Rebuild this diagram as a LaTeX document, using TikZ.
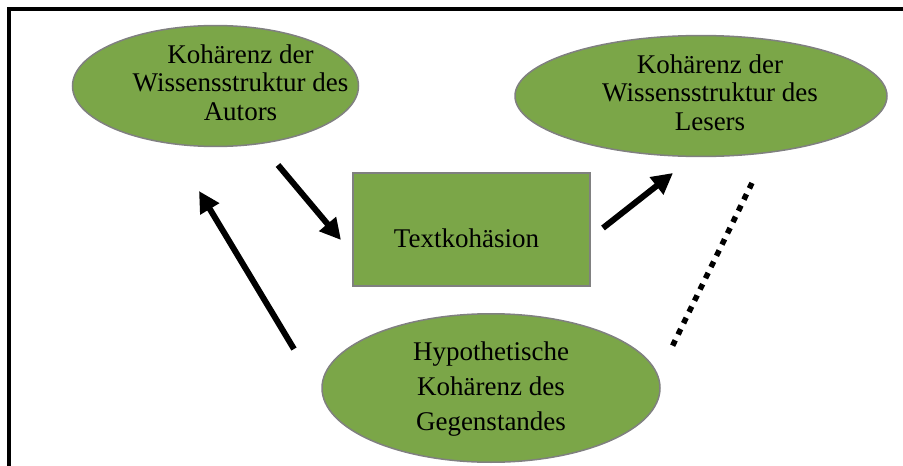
\documentclass[tikz,border=0pt]{standalone}
\usepackage{fontspec}
\setmainfont{Liberation Serif}
\usetikzlibrary{shapes.geometric, arrows.meta, positioning}
\definecolor{blattgruen}{RGB}{123,166,72}
\definecolor{randgrau}{RGB}{128,128,128}
% text inside a shape, moved by (#1/2, #2)
\newcommand{\feldtext}[3]{\makebox[0pt]{\hspace*{#1}\raisebox{#2}{\begin{tabular}{@{}c@{}}#3\end{tabular}}}}

\begin{document}
\begin{tikzpicture}[x=1pt, y=-1pt, >={Triangle[length=21pt, width=21pt]},
  koh/.style={ellipse, draw=randgrau, line width=1.5pt, fill=blattgruen,
    inner sep=0pt, font=\fontsize{27}{28.5}\selectfont},
  kasten/.style={rectangle, draw=randgrau, line width=1.5pt, fill=blattgruen,
    font=\fontsize{27}{28.5}\selectfont},
  pfeil/.style={->, line width=6pt},
  punktiert/.style={line width=5.5pt, dash pattern=on 6pt off 6.5pt}]
\useasboundingbox (0,0) rectangle (903,466);
\draw[line width=4pt] (9.3,470) -- (9.3,9.3) -- (910,9.3);

\node[koh, minimum width=286pt, minimum height=108pt] (autor) at (215.5,86)
  {\feldtext{50pt}{0pt}{Kohärenz der\\Wissensstruktur des\\Autors}};
\node[koh, minimum width=372pt, minimum height=118pt] (leser) at (701,96)
  {\feldtext{18pt}{-5pt}{Kohärenz der\\Wissensstruktur des\\Lesers}};
\node[kasten, minimum width=237pt, minimum height=113pt,
  text height=35pt, text depth=0pt] (text) at (471.5,229.5) {Textkohäsion\hspace*{10pt}};
\node[koh, minimum width=338pt, minimum height=140pt,
  font=\fontsize{27}{35}\selectfont] (gegen) at (491,388)
  {\feldtext{0pt}{-6pt}{Hypothetische\\Kohärenz des\\Gegenstandes}};

\coordinate (a1) at (278,165); \coordinate (b1) at (341,240);
\coordinate (a2) at (603,228); \coordinate (b2) at (673,173);
\coordinate (a3) at (294,349); \coordinate (b3) at (199,191);
\coordinate (c1) at (752,183); \coordinate (c2) at (671,349);

\draw[pfeil] (a1) -- (b1);
\draw[pfeil] (a2) -- (b2);
\draw[pfeil] (a3) -- (b3);
\draw[punktiert] (c1) -- (c2);
\end{tikzpicture}
\end{document}
